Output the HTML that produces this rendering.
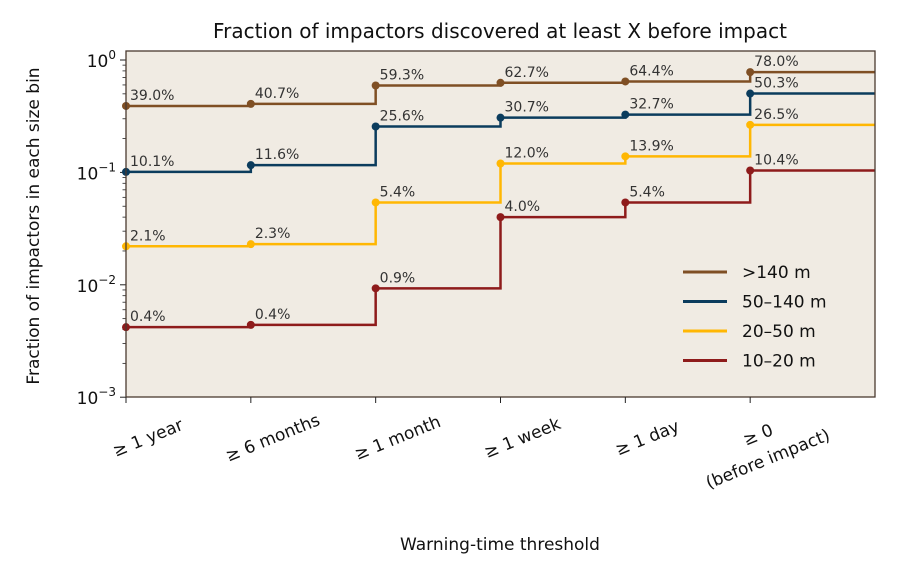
<!DOCTYPE html>
<html><head><meta charset="utf-8"><style>
body{margin:0;background:#fff;font-family:"DejaVu Sans","Liberation Sans",sans-serif}
svg text{font-family:"DejaVu Sans","Liberation Sans",sans-serif}
</style></head><body>
<svg id="c" width="898" height="580" viewBox="0 0 898 580" xmlns="http://www.w3.org/2000/svg"></svg>
<script>
const categories=["≥ 1 year","≥ 6 months","≥ 1 month","≥ 1 week","≥ 1 day","≥ 0|(before impact)"];
const seriesNames=[">140 m","50–140 m","20–50 m","10–20 m"];
const seriesColors=["#7f4f24","#0b3c5d","#ffb703","#8e1b1b"];
const big=[0.39,0.407,0.593,0.627,0.644,0.78];
const mid=[0.101,0.116,0.256,0.307,0.327,0.503];
const small=[0.022,0.023,0.054,0.12,0.139,0.265];
const tiny=[0.0042,0.0044,0.0093,0.040,0.054,0.104];
const bigLabels=["39.0%","40.7%","59.3%","62.7%","64.4%","78.0%"];
const midLabels=["10.1%","11.6%","25.6%","30.7%","32.7%","50.3%"];
const smallLabels=["2.1%","2.3%","5.4%","12.0%","13.9%","26.5%"];
const tinyLabels=["0.4%","0.4%","0.9%","4.0%","5.4%","10.4%"];
const yTicks=[0,-1,-2,-3];

const NS="http://www.w3.org/2000/svg",svg=document.getElementById('c');
const L=126,R=875,T=51,B=397;
const x=i=>L+i*(R-L)/6;
const y=v=>60+(-Math.log10(v))*112.4;
function mk(t,a,p){const e=document.createElementNS(NS,t);for(const k in a)e.setAttribute(k,a[k]);(p||svg).appendChild(e);return e;}
const bg=mk('rect',{x:L,y:T,width:R-L,height:B-T,fill:'#f0ebe3'});


const title=mk('text',{x:500,y:38,'text-anchor':'middle','font-size':20,fill:'#111'});title.textContent="Fraction of impactors discovered at least X before impact";


yTicks.forEach(e=>{const yy=y(Math.pow(10,e));
 mk('line',{x1:L-6,x2:L,y1:yy,y2:yy,stroke:'#222','stroke-width':1});
 const t=mk('text',{x:L-10,y:yy+7,'text-anchor':'end','font-size':17,fill:'#111'});
 
 
 t.innerHTML='10<tspan dy="-8" font-size="12">'+(e===0?'0':'−'+(-e))+'</tspan>';
 if(e>-3)for(let m=2;m<10;m++){const my=y(m*Math.pow(10,e-1));mk('line',{x1:L-3.5,x2:L,y1:my,y2:my,stroke:'#222','stroke-width':0.8});}
});
const all=[big,mid,small,tiny],labs=[bigLabels,midLabels,smallLabels,tinyLabels];
all.forEach((vals,s)=>{
 let d='M'+x(0)+' '+y(vals[0]);for(let i=0;i<vals.length;i++){if(i>0)d+=' V'+y(vals[i]);d+=' H'+x(i+1);}
 const p=mk('path',{d:d,fill:'none',stroke:seriesColors[s],'stroke-width':2.5});
 
 
 vals.forEach((v,i)=>{const c=mk('circle',{cx:x(i),cy:y(v),r:4,fill:seriesColors[s]});
  
  
  const t=mk('text',{x:x(i)+4,y:y(v)-6,'font-size':14,fill:'#333'});t.textContent=labs[s][i];
  
  });
});
mk('rect',{x:L,y:T,width:R-L,height:B-T,fill:'none',stroke:'#4a3a30','stroke-width':1.3});
categories.forEach((c,i)=>{const xx=x(i);mk('line',{x1:xx,x2:xx,y1:B,y2:B+6,stroke:'#222'});
 const parts=c.split('|');const t=mk('text',{'font-size':17,fill:'#111','text-anchor':'middle',transform:`translate(${xx+24},${B+46}) rotate(-22)`});
 
 
 if(parts.length===1)t.textContent=c;else{t.setAttribute('transform',`translate(${xx+10},${B+43}) rotate(-22)`);
  const a=mk('tspan',{x:0,dy:0},t);a.textContent=parts[0];const b=mk('tspan',{x:0,dy:26},t);b.textContent=parts[1];}
});
const xt=mk('text',{x:500,y:550,'text-anchor':'middle','font-size':17,fill:'#111'});xt.textContent="Warning-time threshold";


const yt=mk('text',{'text-anchor':'middle','font-size':17,fill:'#111',transform:'translate(39,226) rotate(-90)'});yt.textContent="Fraction of impactors in each size bin";


seriesNames.forEach((n,i)=>{const ly=272+i*29.5;
 const g=mk('g',{});
 
 
 mk('line',{x1:683,x2:727,y1:ly,y2:ly,stroke:seriesColors[i],'stroke-width':3},g);
 const t=mk('text',{x:742,y:ly+6,'font-size':17,fill:'#111'},g);t.textContent=n;});
</script>
</body></html>
